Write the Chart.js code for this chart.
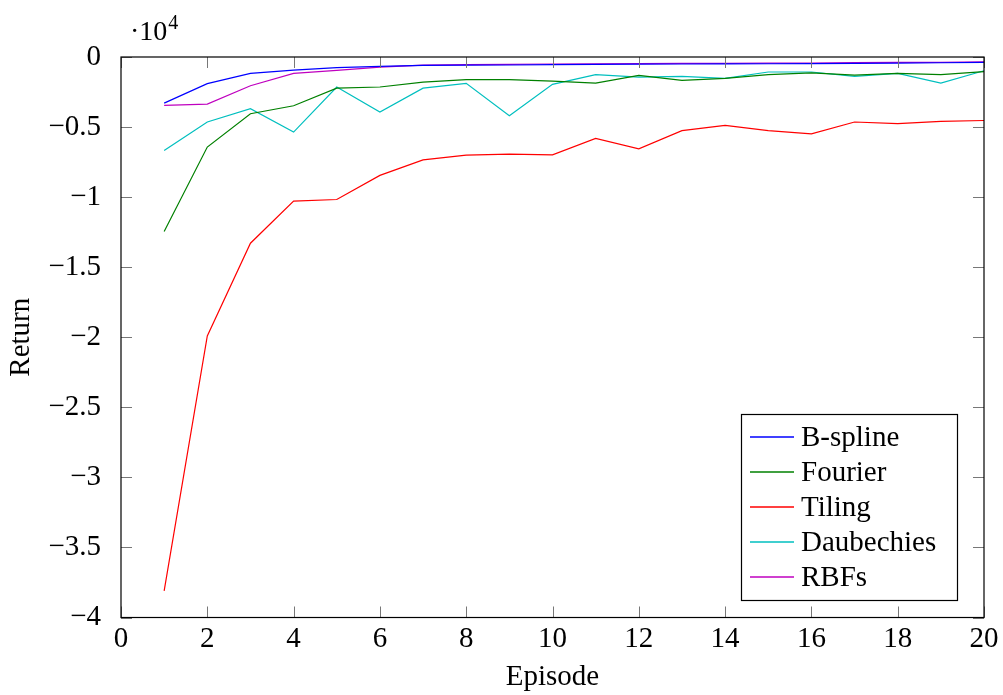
<!DOCTYPE html>
<html>
<head>
<meta charset="utf-8">
<script src="https://cdn.jsdelivr.net/npm/chart.js@4"></script>
<style>
  html, body { margin: 0; padding: 0; background: #fff; }
</style>
</head>
<body>
<canvas id="chart" width="1003" height="695"></canvas>
<script>
const episodes = [1, 2, 3, 4, 5, 6, 7, 8, 9, 10, 11, 12, 13, 14, 15, 16, 17, 18, 19, 20]

const bspline = [-3290, -1900, -1170, -930, -760, -670, -600, -580, -570, -550, -520, -510, -500, -490, -480, -470, -450, -430, -410, -380]
const fourier = [-12450, -6430, -4050, -3480, -2220, -2140, -1790, -1620, -1620, -1720, -1860, -1310, -1670, -1530, -1260, -1140, -1290, -1170, -1260, -1050]
const tiling = [-38100, -19910, -13290, -10290, -10170, -8450, -7340, -7000, -6930, -6980, -5810, -6550, -5260, -4880, -5260, -5480, -4640, -4760, -4600, -4530]
const daubechies = [-6670, -4640, -3690, -5360, -2140, -3930, -2220, -1880, -4190, -1950, -1260, -1430, -1380, -1530, -1070, -1070, -1380, -1170, -1860, -980]
const rbfs = [-3450, -3360, -2050, -1170, -950, -720, -580, -550, -520, -500, -480, -470, -460, -450, -440, -430, -400, -390, -380, -350]

const seriesNames = ['B-spline', 'Fourier', 'Tiling', 'Daubechies', 'RBFs']
const seriesData = [bspline, fourier, tiling, daubechies, rbfs]
const seriesColors = ['#0000ff', '#008000', '#ff0000', '#00bfbf', '#bf00bf']

const FONT = '"Liberation Serif", "DejaVu Serif", serif'
const SIZE = 29

const fmt = v => String(v / 10000).replace('-', '\u2212')

// frame, inward tick marks, the ·10^4 exponent note and the legend box
const framePlugin = {
  id: 'frame',
  afterDatasetsDraw(chart) {
    const { ctx, chartArea: a, scales } = chart
    ctx.save()
    ctx.strokeStyle = '#777'
    ctx.lineWidth = 1
    const len = 11
    ctx.beginPath()
    scales.x.ticks.forEach(t => {
      const px = Math.round(scales.x.getPixelForValue(t.value)) + 0.5
      ctx.moveTo(px, a.bottom); ctx.lineTo(px, a.bottom - len)
      ctx.moveTo(px, a.top); ctx.lineTo(px, a.top + len)
    })
    scales.y.ticks.forEach(t => {
      const py = Math.round(scales.y.getPixelForValue(t.value)) + 0.5
      ctx.moveTo(a.left, py); ctx.lineTo(a.left + len, py)
      ctx.moveTo(a.right, py); ctx.lineTo(a.right - len, py)
    })
    ctx.stroke()
    ctx.strokeStyle = '#000'
    ctx.lineWidth = 1.2
    ctx.strokeRect(a.left, a.top, a.right - a.left, a.bottom - a.top)

    ctx.fillStyle = '#000'
    ctx.textBaseline = 'alphabetic'
    ctx.textAlign = 'left'
    ctx.font = '28px ' + FONT
    ctx.fillText('\u00b710', 130, 40)
    const w = ctx.measureText('\u00b710').width
    ctx.font = '20px ' + FONT
    ctx.fillText('4', 130 + w + 1, 29)

    // legend, lower right
    const lx = 741.5, ly = 414.5, lw = 216, lh = 186
    ctx.fillStyle = '#fff'
    ctx.fillRect(lx, ly, lw, lh)
    ctx.strokeStyle = '#000'
    ctx.lineWidth = 1.2
    ctx.strokeRect(lx, ly, lw, lh)
    ctx.font = SIZE + 'px ' + FONT
    ctx.textBaseline = 'middle'
    chart.data.datasets.forEach((ds, i) => {
      const cy = 437 + i * 35
      ctx.strokeStyle = ds.borderColor
      ctx.lineWidth = 1.5
      ctx.beginPath()
      ctx.moveTo(750, cy); ctx.lineTo(794, cy)
      ctx.stroke()
      ctx.fillStyle = '#000'
      ctx.fillText(ds.label, 801, cy + 1)
    })
    ctx.restore()
  }
}

const chart = new Chart(document.getElementById('chart'), {
  type: 'line',
  data: {
    datasets: seriesNames.map((name, i) => ({
      label: name,
      data: episodes.map((e, j) => ({ x: e, y: seriesData[i][j] })),
      borderColor: seriesColors[i],
      backgroundColor: seriesColors[i],
      borderWidth: 1.2,
      pointRadius: 0,
      tension: 0,
      fill: false
    }))
  },
  options: {
    responsive: false,
    animation: false,
    layout: { padding: { left: 0, right: 19, top: 57, bottom: 0 } },
    plugins: { legend: { display: false }, tooltip: { enabled: false } },
    scales: {
      x: {
        type: 'linear',
        min: 0, max: 20,
        grid: { display: false },
        border: { display: false },
        ticks: { stepSize: 2, padding: -4, color: '#000', font: { family: FONT, size: SIZE }, maxRotation: 0 },
        title: { display: true, text: 'Episode', color: '#000', font: { family: FONT, size: SIZE }, padding: { top: -3, bottom: 0 } },
        afterFit(scale) { scale.height = 77.5 }
      },
      y: {
        min: -40000, max: 0,
        grid: { display: false },
        border: { display: false },
        ticks: { stepSize: 5000, padding: 12, color: '#000', font: { family: FONT, size: SIZE }, callback: v => fmt(v) },
        title: { display: true, text: 'Return', color: '#000', font: { family: FONT, size: SIZE }, padding: { top: 4, bottom: 0 } },
        afterFit(scale) { scale.width = 121 }
      }
    }
  },
  plugins: [framePlugin]
})
</script>
</body>
</html>
